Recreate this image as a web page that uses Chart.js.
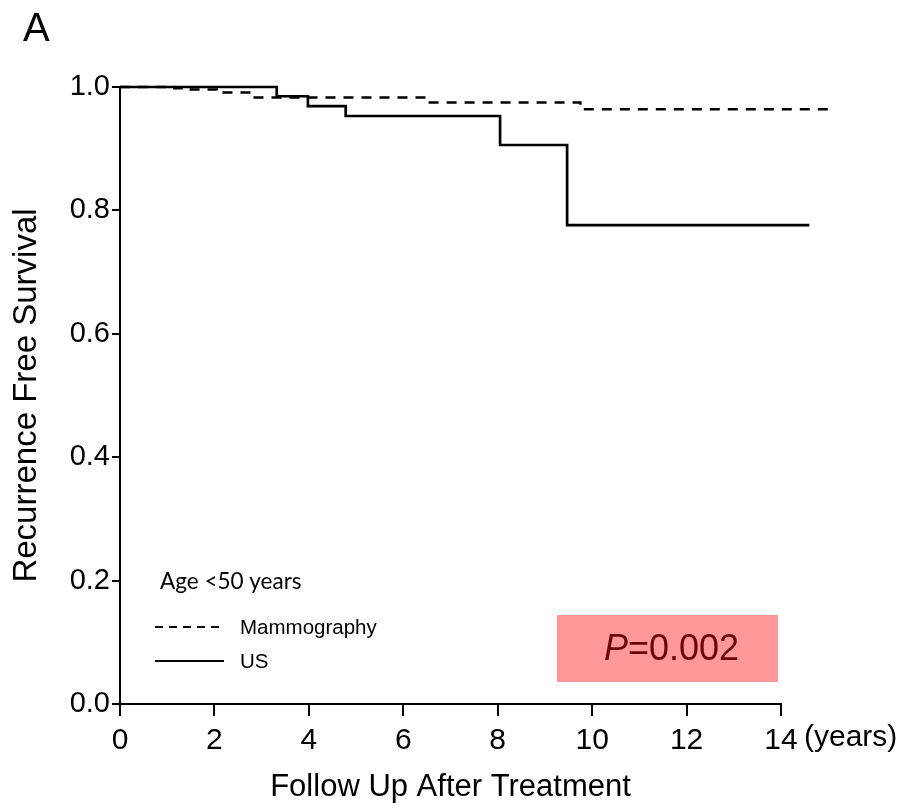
<!DOCTYPE html>
<html>
<head>
<meta charset="utf-8">
<script src="https://cdn.jsdelivr.net/npm/chart.js@4.4.1/dist/chart.umd.min.js"></script>
<style>
  body { margin: 0; background: #fff; }
  canvas { display: block; }
</style>
</head>
<body>
<canvas id="kmChart" width="906" height="806"></canvas>
<script>
// Kaplan-Meier steps (years, survival)
const usYears = [0, 3.32, 3.98, 4.78, 8.05, 9.47, 14.6];
const usSurv  = [1.0, 0.985, 0.969, 0.953, 0.906, 0.776, 0.776];

const mamYears = [0, 1.15, 1.35, 2.05, 2.8, 6.5, 9.75, 15.1];
const mamSurv  = [1.0, 0.998, 0.996, 0.991, 0.983, 0.975, 0.964, 0.964];

const xTicks = [0, 2, 4, 6, 8, 10, 12, 14];
const yTicks = [0, 0.2, 0.4, 0.6, 0.8, 1.0];

const seriesNames = ['Mammography', 'US'];
const legendTitle = 'Age <50 years';
const pLabel = 'P';
const pValue = '=0.002';

const arial = '"Liberation Sans", Arial, sans-serif';

function toPoints(xs, ys) {
    return xs.map((x, i) => ({ x: x, y: ys[i] }));
}

// extra text: panel letter, unit, legend, p-value box
const extrasPlugin = {
    id: 'extras',
    afterDraw(chart) {
        const ctx = chart.ctx;
        const area = chart.chartArea;
        const xs = chart.scales.x;
        ctx.save();

        ctx.fillStyle = '#000';
        ctx.font = '40px ' + arial;
        ctx.textAlign = 'left';
        ctx.textBaseline = 'alphabetic';
        ctx.fillText('A', 23, 41);

        // unit after the last x tick
        ctx.font = '30px ' + arial;
        ctx.textBaseline = 'top';
        ctx.fillText('(years)', xs.getPixelForValue(14) + 23, area.bottom + 19);

        // legend
        const lx = area.left + 35;
        ctx.font = '22.5px Lato, "Open Sans", sans-serif';
        ctx.textBaseline = 'middle';
        ctx.fillText(legendTitle, lx + 5, area.bottom - 122);

        ctx.lineWidth = 2;
        ctx.strokeStyle = '#000';
        ctx.setLineDash([8, 6]);
        ctx.beginPath();
        ctx.moveTo(lx, area.bottom - 77);
        ctx.lineTo(lx + 68, area.bottom - 77);
        ctx.stroke();
        ctx.setLineDash([]);
        ctx.beginPath();
        ctx.moveTo(lx, area.bottom - 43);
        ctx.lineTo(lx + 69, area.bottom - 43);
        ctx.stroke();

        ctx.font = '20.5px ' + arial;
        ctx.fillText(seriesNames[0], lx + 85, area.bottom - 76);
        ctx.fillText(seriesNames[1], lx + 85, area.bottom - 42);

        // p-value box
        const bx = area.left + 437, by = area.bottom - 89;
        ctx.fillStyle = '#ff9999';
        ctx.fillRect(bx, by, 221, 67);
        ctx.fillStyle = '#6e0505';
        ctx.textBaseline = 'alphabetic';
        ctx.font = 'italic 36px ' + arial;
        ctx.fillText(pLabel, bx + 47, by + 45);
        const pw = ctx.measureText(pLabel).width;
        ctx.font = '36px ' + arial;
        ctx.fillText(pValue, bx + 47 + pw, by + 45);

        ctx.restore();
    }
};

const ctx = document.getElementById('kmChart').getContext('2d');
const chart = new Chart(ctx, {
    type: 'line',
    data: {
        datasets: [{
            label: seriesNames[0],
            data: toPoints(mamYears, mamSurv),
            borderColor: '#000',
            borderWidth: 2.5,
            borderDash: [10, 8],
            stepped: 'before',
            pointRadius: 0,
            fill: false,
            clip: false
        }, {
            label: seriesNames[1],
            data: toPoints(usYears, usSurv),
            borderColor: '#000',
            borderWidth: 2.7,
            stepped: 'before',
            pointRadius: 0,
            fill: false,
            clip: false
        }]
    },
    options: {
        responsive: false,
        animation: false,
        layout: { padding: { top: 87, right: 125, left: 0, bottom: 0 } },
        plugins: {
            legend: { display: false },
            tooltip: { enabled: false }
        },
        scales: {
            x: {
                type: 'linear',
                min: 0,
                max: 14,
                afterFit: (s) => { s.height = 102; },
                afterBuildTicks: (s) => { s.ticks = xTicks.map(v => ({ value: v })); },
                ticks: {
                    color: '#000',
                    font: { size: 30, family: arial },
                    padding: 7,
                    maxRotation: 0
                },
                grid: {
                    drawOnChartArea: false,
                    drawTicks: true,
                    tickLength: 12,
                    tickColor: '#000',
                    lineWidth: 2
                },
                border: { display: true, color: '#000', width: 2 },
                title: {
                    display: true,
                    text: 'Follow Up After Treatment',
                    color: '#000',
                    font: { size: 31, family: arial },
                    padding: 0
                }
            },
            y: {
                type: 'linear',
                min: 0,
                max: 1,
                afterFit: (s) => { s.width = 120; },
                afterBuildTicks: (s) => { s.ticks = yTicks.map(v => ({ value: v })); },
                ticks: {
                    color: '#000',
                    font: { size: 29, family: arial },
                    padding: 2,
                    callback: (v) => Number(v).toFixed(1)
                },
                grid: {
                    drawOnChartArea: false,
                    drawTicks: true,
                    tickLength: 8,
                    tickColor: '#000',
                    lineWidth: 2
                },
                border: { display: true, color: '#000', width: 2 },
                title: {
                    display: true,
                    text: 'Recurrence Free Survival',
                    color: '#000',
                    font: { size: 33, family: arial },
                    padding: 7
                }
            }
        }
    },
    plugins: [extrasPlugin]
});
</script>
</body>
</html>
